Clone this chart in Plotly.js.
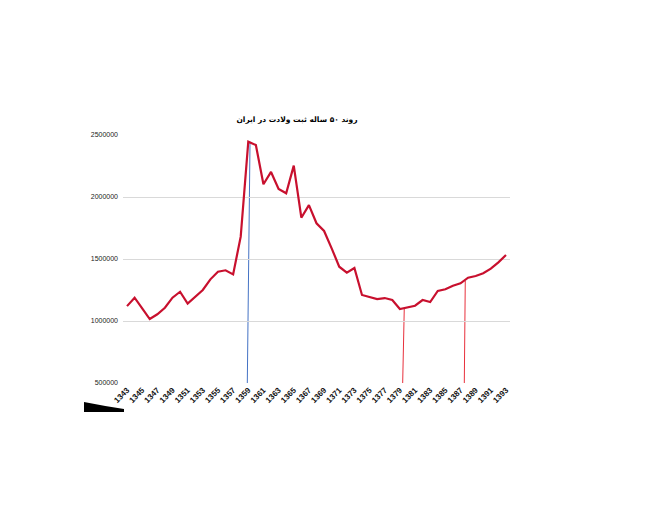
<!DOCTYPE html>
<html>
<head>
<meta charset="utf-8">
<script src="https://cdn.plot.ly/plotly-3.0.1.min.js"></script>
<style>html,body{margin:0;padding:0;background:#fff;}#chart{width:653px;height:524px;}</style>
</head>
<body>
<div id="chart"></div>
<script>
// Years (Solar Hijri)
const years = [1343,1344,1345,1346,1347,1348,1349,1350,1351,1352,1353,1354,1355,1356,1357,1358,1359,1360,
  1361,1362,1363,1364,1365,1366,1367,1368,1369,1370,1371,1372,1373,1374,1375,1376,1377,1378,1379,1380,
  1381,1382,1383,1384,1385,1386,1387,1388,1389,1390,1391,1392,1393];
// Registered births
const births = [1120000,1188000,1102000,1016000,1054000,1107000,1188000,1236000,1140000,1196000,1250000,1336000,
  1398000,1409000,1376000,1680000,2446000,2419000,2103000,2202000,2065000,2030000,2253000,1833000,1935000,
  1788000,1726000,1586000,1438000,1390000,1427000,1210000,1191000,1177000,1185000,1169000,1097000,1110000,
  1123000,1169000,1153000,1242000,1256000,1285000,1304000,1349000,1363000,1385000,1422000,1473000,1532000];
// Tick labels (every second year)
const tickYears = [1343,1345,1347,1349,1351,1353,1355,1357,1359,1361,1363,1365,1367,1369,1371,1373,1375,1377,1379,1381,1383,1385,1387,1389,1391,1393];
const yTicks = [500000,1000000,1500000,2000000,2500000];
// Guide (drop) lines
const guideX0 = [1358.87, 1379.37, 1387.5];
const guideX1 = [1359.23, 1379.58, 1387.63];
const guideTop = [2445000, 1105000, 1323000];
const guideColors = ['#4472c4', '#e8303c', '#e8303c'];

const titleText = 'روند ۵۰ ساله ثبت ولادت در ایران';

const W = 653, H = 524, L = 123, R = 510, T = 135, B = 383;
const px = x => (x - L) / (R - L);
const py = y => (B - y) / (B - T);

const shapes = guideX0.map((x0, i) => ({
  type: 'line', xref: 'x', yref: 'y', x0: x0, x1: guideX1[i], y0: 500000, y1: guideTop[i],
  line: {color: guideColors[i], width: 1}, layer: 'below'
}));
// black wedge at bottom-left
shapes.push({
  type: 'path', xref: 'paper', yref: 'paper',
  path: `M ${px(84)} ${py(402)} Q ${px(104)} ${py(406)} ${px(124)} ${py(409)} L ${px(124)} ${py(412)} L ${px(84)} ${py(412)} Z`,
  fillcolor: '#000', line: {width: 0}
});

const trace = {
  x: years, y: births, type: 'scatter', mode: 'lines',
  line: {color: '#c8102e', width: 2.2}, hoverinfo: 'x+y'
};

const layout = {
  width: W, height: H,
  margin: {l: L, r: W - R, t: T, b: H - B, pad: 0},
  paper_bgcolor: '#fff', plot_bgcolor: '#fff',
  showlegend: false,
  title: {text: '<b>' + titleText + '</b>', x: 297 / W, xanchor: 'center', xref: 'container',
    y: 1 - 119 / H, yanchor: 'middle', yref: 'container',
    font: {family: 'DejaVu Sans', size: 7.5, color: '#000'}},
  xaxis: {
    range: [1342.47, 1393.53], tickvals: tickYears, ticktext: tickYears.map(String),
    tickangle: -45, showgrid: false, zeroline: false, showline: false, ticks: '',
    tickfont: {family: 'Liberation Sans', size: 8, color: '#111', weight: 'bold'}
  },
  yaxis: {
    range: [500000, 2500000], tickvals: yTicks, ticktext: yTicks.map(String),
    showgrid: true, gridcolor: '#d9d9d9', gridwidth: 1, zeroline: false, showline: false, ticks: '',
    ticklabelstandoff: 4,
    tickfont: {family: 'Liberation Sans', size: 7, color: '#222'}
  },
  shapes: shapes
};

Plotly.newPlot('chart', [trace], layout, {displayModeBar: false, staticPlot: true});
</script>
</body>
</html>
